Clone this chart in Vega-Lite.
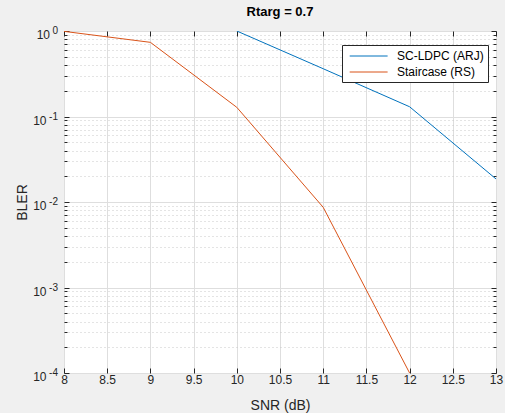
{
  "$schema": "https://vega.github.io/schema/vega-lite/v6.json",
  "width": 432,
  "height": 342,
  "autosize": {"type": "none"},
  "padding": {"left": 64, "top": 31, "right": 9, "bottom": 40},
  "background": "#f0f0f0",
  "config": {
    "view": {"stroke": "#262626", "strokeWidth": 1, "fill": "#ffffff"},
    "font": "Liberation Sans"
  },
  "title": {"text": "Rtarg = 0.7", "fontSize": 13, "fontWeight": "bold", "font": "Liberation Sans", "color": "#000000", "anchor": "middle", "offset": 7},
  "data": {
    "values": [
      {"code": "SC-LDPC (ARJ)", "snr": 10, "bler": 1.0},
      {"code": "SC-LDPC (ARJ)", "snr": 11, "bler": 0.362},
      {"code": "SC-LDPC (ARJ)", "snr": 12, "bler": 0.13},
      {"code": "SC-LDPC (ARJ)", "snr": 13, "bler": 0.0186},
      {"code": "Staircase (RS)", "snr": 8, "bler": 0.99},
      {"code": "Staircase (RS)", "snr": 9, "bler": 0.737},
      {"code": "Staircase (RS)", "snr": 10, "bler": 0.128},
      {"code": "Staircase (RS)", "snr": 11, "bler": 0.00867},
      {"code": "Staircase (RS)", "snr": 12, "bler": 0.0001}
    ]
  },
  "layer": [
    {
      "mark": {"type": "line", "strokeWidth": 1, "clip": true},
      "encoding": {
        "x": {
          "field": "snr", "type": "quantitative",
          "scale": {"domain": [8, 13], "nice": false, "zero": false},
          "axis": {
            "orient": "bottom",
            "values": [8, 8.5, 9, 9.5, 10, 10.5, 11, 11.5, 12, 12.5, 13],
            "format": "~g",
            "grid": true, "gridColor": "#dedede",
            "domain": false,
            "tickSize": -5, "tickColor": "#262626",
            "labelFont": "Liberation Sans", "labelFontSize": 12, "labelColor": "#262626",
            "labelFlush": false, "labelOverlap": false, "labelBound": false,
            "labelBaseline": "alphabetic", "labelPadding": 15,
            "title": "SNR (dB)", "titleFont": "Liberation Sans", "titleFontSize": 14, "titleFontWeight": "normal", "titleColor": "#262626",
            "titleBaseline": "alphabetic", "titleX": 216, "titleY": 36
          }
        },
        "y": {
          "field": "bler", "type": "quantitative",
          "scale": {"type": "log", "domain": [0.0001, 1], "nice": false},
          "axis": {
            "orient": "left",
            "values": [0.0001, 0.0002, 0.0003, 0.0004, 0.0005, 0.0006, 0.0007, 0.0008, 0.0009, 0.001, 0.002, 0.003, 0.004, 0.005, 0.006, 0.007, 0.008, 0.009, 0.01, 0.02, 0.03, 0.04, 0.05, 0.06, 0.07, 0.08, 0.09, 0.1, 0.2, 0.3, 0.4, 0.5, 0.6, 0.7, 0.8, 0.9, 1],
            "labels": false,
            "grid": true,
            "gridColor": {"condition": {"test": "abs(log(datum.value)/LN10 - round(log(datum.value)/LN10)) > 0.001", "value": "#c8c8c8"}, "value": "#dedede"},
            "gridDash": {"condition": {"test": "abs(log(datum.value)/LN10 - round(log(datum.value)/LN10)) > 0.001", "value": [1, 3]}, "value": []},
            "domain": false,
            "tickSize": {"condition": {"test": "abs(log(datum.value)/LN10 - round(log(datum.value)/LN10)) > 0.001", "value": -3}, "value": -5},
            "tickColor": "#262626",
            "title": "BLER", "titleFont": "Liberation Sans", "titleFontSize": 14, "titleFontWeight": "normal", "titleColor": "#262626",
            "titleBaseline": "alphabetic", "titleX": -38, "titleY": 171, "titleAngle": -90, "titleAlign": "center"
          }
        },
        "color": {
          "field": "code", "type": "nominal",
          "scale": {"domain": ["SC-LDPC (ARJ)", "Staircase (RS)"], "range": ["#0072BD", "#D95319"]},
          "legend": {
            "orient": "none", "legendX": 278, "legendY": 14,
            "title": null, "symbolType": "M-1,0H5", "symbolSize": 160, "symbolStrokeWidth": 1, "symbolFillColor": "transparent",
            "labelFont": "Liberation Sans", "labelFontSize": 12, "labelColor": "#000000",
            "fillColor": "#ffffff", "strokeColor": "#262626", "padding": 4, "symbolOffset": 3,
            "labelOffset": 34, "rowPadding": 3
          }
        }
      }
    },
    {
      "mark": {"type": "line", "opacity": 0},
      "encoding": {
        "x": {
          "field": "snr", "type": "quantitative",
          "scale": {"domain": [8, 13], "nice": false, "zero": false},
          "axis": {
            "orient": "top", "values": [8, 8.5, 9, 9.5, 10, 10.5, 11, 11.5, 12, 12.5, 13],
            "labels": false, "grid": false, "domain": false, "title": null,
            "tickSize": -5, "tickColor": "#262626"
          }
        },
        "y": {
          "field": "bler", "type": "quantitative",
          "scale": {"type": "log", "domain": [0.0001, 1], "nice": false},
          "axis": {
            "orient": "right",
            "values": [0.0001, 0.0002, 0.0003, 0.0004, 0.0005, 0.0006, 0.0007, 0.0008, 0.0009, 0.001, 0.002, 0.003, 0.004, 0.005, 0.006, 0.007, 0.008, 0.009, 0.01, 0.02, 0.03, 0.04, 0.05, 0.06, 0.07, 0.08, 0.09, 0.1, 0.2, 0.3, 0.4, 0.5, 0.6, 0.7, 0.8, 0.9, 1],
            "labels": false, "grid": false, "domain": false, "title": null,
            "tickSize": {"condition": {"test": "abs(log(datum.value)/LN10 - round(log(datum.value)/LN10)) > 0.001", "value": -3}, "value": -5},
            "tickColor": "#262626"
          }
        },
        "detail": {"field": "code", "type": "nominal"}
      }
    },
    {
      "mark": {"type": "line", "opacity": 0},
      "encoding": {
        "x": {"field": "snr", "type": "quantitative", "scale": {"domain": [8, 13], "nice": false, "zero": false}, "axis": null},
        "y": {
          "field": "bler", "type": "quantitative",
          "scale": {"type": "log", "domain": [0.0001, 1], "nice": false},
          "axis": {
            "orient": "left",
            "values": [0.0001, 0.001, 0.01, 0.1, 1],
            "labelExpr": "'10'",
            "ticks": false, "grid": false, "domain": false, "title": null,
            "labelFont": "Liberation Sans", "labelFontSize": 12, "labelColor": "#262626",
            "labelAlign": "right", "labelBaseline": "alphabetic", "labelOffset": 7.5,
            "labelPadding": {"condition": {"test": "datum.value == 1", "value": 14.5}, "value": 18},
            "labelOverlap": false, "labelBound": false, "labelFlush": false
          }
        },
        "detail": {"field": "code", "type": "nominal"}
      }
    },
    {
      "mark": {"type": "line", "opacity": 0},
      "encoding": {
        "x": {"field": "snr", "type": "quantitative", "scale": {"domain": [8, 13], "nice": false, "zero": false}, "axis": null},
        "y": {
          "field": "bler", "type": "quantitative",
          "scale": {"type": "log", "domain": [0.0001, 1], "nice": false},
          "axis": {
            "orient": "left",
            "values": [0.0001, 0.001, 0.01, 0.1, 1],
            "labelExpr": "datum.value == 1 ? '0' : datum.value == 0.1 ? '-1' : datum.value == 0.01 ? '-2' : datum.value == 0.001 ? '-3' : '-4'",
            "ticks": false, "grid": false, "domain": false, "title": null,
            "labelFont": "Liberation Sans", "labelFontSize": 10, "labelColor": "#262626",
            "labelAlign": "right", "labelBaseline": "alphabetic", "labelOffset": 2.5,
            "labelPadding": 6.5,
            "labelOverlap": false, "labelBound": false, "labelFlush": false
          }
        },
        "detail": {"field": "code", "type": "nominal"}
      }
    }
  ],
  "resolve": {"axis": {"x": "independent", "y": "independent"}}
}
